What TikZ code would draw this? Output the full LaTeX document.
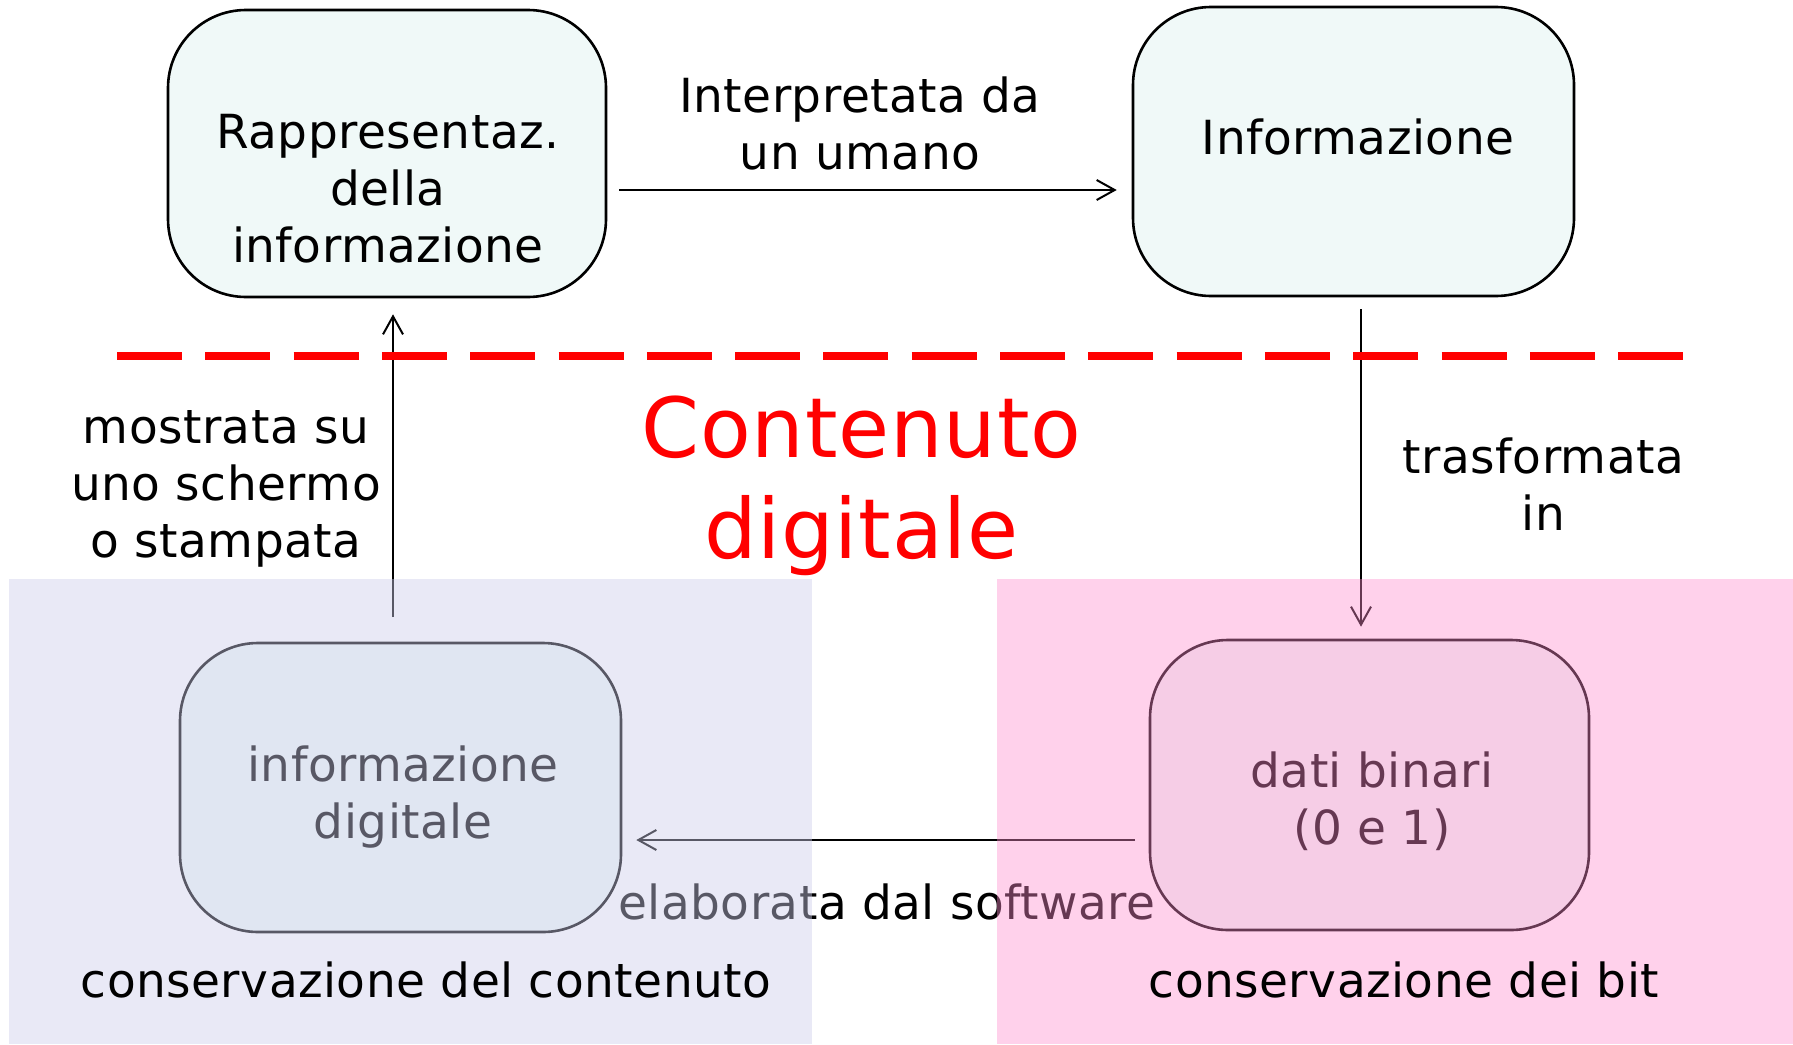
\documentclass[tikz,border=0pt]{standalone}
\usepackage{fontspec}
\setmainfont{DejaVu Sans}[LetterSpace=1]
\usetikzlibrary{arrows.meta,calc}
\definecolor{boxfill}{RGB}{240,249,248}
\definecolor{lavov}{RGB}{205,205,235}
\definecolor{pinkov}{RGB}{255,140,205}
\definecolor{redc}{RGB}{255,0,0}
\newcommand{\mlines}[1]{\begin{tabular}[t]{@{}c@{}}#1\end{tabular}}
\begin{document}
\begin{tikzpicture}[x=1pt,y=-1pt,
  box/.style={draw=black, line width=2.6pt, fill=boxfill, rounded corners=78pt, inner sep=0pt},
  txt/.style={font=\fontsize{47}{57}\selectfont, inner sep=0pt, anchor=base, align=center},
  bigred/.style={font=\fontsize{83}{101}\selectfont, text=redc, inner sep=0pt, anchor=base, align=center},
  arr/.style={line width=2pt, -{Straight Barb[length=18pt,width=20pt]}},
  reddash/.style={draw=redc, line width=7.5pt, dash pattern=on 65pt off 23.3pt}]
\useasboundingbox (0,0) rectangle (1793,1044);
\fill[white] (0,0) rectangle (1793,1044);
% boxes
\node[box, minimum width=438pt, minimum height=287pt] (rep) at (387,153.5) {};
\node[box, minimum width=441pt, minimum height=289pt] (info) at (1353.5,151.5) {};
\node[box, minimum width=441pt, minimum height=289pt] (dig) at (400.5,787.5) {};
\node[box, minimum width=439pt, minimum height=290pt] (bin) at (1369.5,785) {};
% box texts
\node[txt] (repT) at (388,148) {\mlines{Rappresentaz.\\della\\informazione}};
\node[txt] (infoT) at (1358,154) {Informazione};
\node[txt] (digT) at (403,781) {\mlines{informazione\\digitale}};
\node[txt] (binT) at (1372,787) {\mlines{dati binari\\(0 e 1)}};
% connectors
\coordinate (a1) at (619,190);
\draw[arr, shorten >=15pt] (a1) -- (a1 -| info.west);
\coordinate (a2) at (393,617);
\draw[arr, shorten >=16pt] (a2) -- (a2 |- rep.south);
\coordinate (a3) at (1361,309);
\draw[arr, shorten >=12pt] (a3) -- (a3 |- bin.north);
\coordinate (a4) at (1135,840);
\draw[arr, shorten >=14pt] (a4) -- (a4 -| dig.east);
% labels
\node[txt] (l1) at (860,112) {\mlines{Interpretata da\\un umano}};
\node[txt] (l2) at (226,443) {\mlines{mostrata su\\uno schermo\\o stampata}};
\node[txt] (l3) at (1543.5,473) {\mlines{trasformata\\in}};
\node[txt] (l4) at (887,919) {elaborata dal software};
% red separator and title
\coordinate (d1) at (117,356);
\coordinate (d2) at (1683,356);
\draw[reddash] (d1) -- (d2);
\node[bigred] (cd) at (861.5,457) {\mlines{Contenuto\\digitale}};
% overlays
\fill[lavov, opacity=0.43] (9,579) rectangle (812,1044);
\fill[pinkov, opacity=0.4] (997,579) rectangle (1793,1044);
% zone labels
\node[txt] (c1) at (426,997) {conservazione del contenuto};
\node[txt] (c2) at (1404,997) {conservazione dei bit};
\end{tikzpicture}
\end{document}
